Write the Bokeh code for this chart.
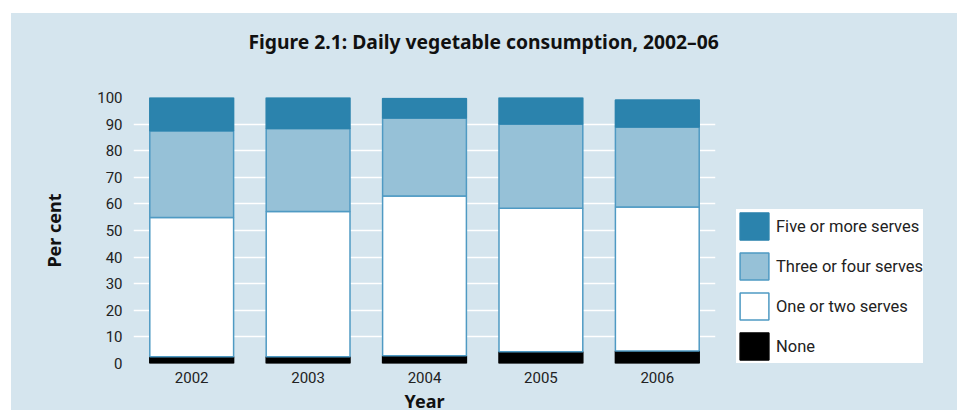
from bokeh.plotting import figure
from bokeh.models import ColumnDataSource, Legend, LegendItem, FixedTicker, Title, Spacer
from bokeh.layouts import column, row
from bokeh.embed import file_html
from bokeh.resources import INLINE

years = ["2002", "2003", "2004", "2005", "2006"]
none_serves = [2.5, 2.5, 2.9, 4.4, 4.7]
one_two = [52.4, 54.6, 60.1, 54.0, 54.1]
three_four = [32.6, 31.2, 29.3, 31.6, 30.1]
five_more = [12.5, 11.7, 7.3, 10.0, 10.2]
series_names = ["None", "One or two serves", "Three or four serves", "Five or more serves"]
y_ticks = [0, 10, 20, 30, 40, 50, 60, 70, 80, 90, 100]

BG = "#d5e5ee"
FONT = "Roboto"
keys = ["none", "one", "three", "five"]
fills = ["#000000", "#ffffff", "#96c1d7", "#2b83ad"]
lines = ["#000000", "#4f9ac3", "#4f9ac3", "#2b83ad"]

src = ColumnDataSource(dict(year=years, none=none_serves, one=one_two,
                            three=three_four, five=five_more))

# main chart
p = figure(x_range=years, y_range=(0, 100), width=720, height=402,
           output_backend="svg", toolbar_location=None, title=None,
           min_border_left=122, min_border_right=16, min_border_top=84,
           min_border_bottom=52)
p.x_range.range_padding = 0
p.background_fill_color = BG
p.border_fill_color = BG
p.outline_line_color = None

p.vbar_stack(keys, x="year", width=0.72, source=src,
             fill_color=fills, line_color=lines, line_width=1.5)

# spacer title (closest to frame) then the real title above it
p.add_layout(Title(text=" ", text_font_size="1px", standoff=40,
                   text_color=BG), "above")
p.add_layout(Title(text="Figure 2.1: Daily vegetable consumption, 2002\u201306",
                   align="left", offset=115, text_font="Noto Sans",
                   text_font_style="bold", text_font_size="19.3px",
                   text_color="#111111", standoff=0), "above")

p.ygrid.ticker = FixedTicker(ticks=y_ticks)
p.ygrid.grid_line_color = "white"
p.ygrid.grid_line_width = 1.5
p.xgrid.grid_line_color = None

p.yaxis.ticker = FixedTicker(ticks=y_ticks)
for ax in (p.xaxis[0], p.yaxis[0]):
    ax.axis_line_color = None
    ax.major_tick_line_color = None
    ax.minor_tick_line_color = None
    ax.major_tick_out = 0
    ax.major_tick_in = 0
    ax.major_label_text_font = FONT
    ax.major_label_text_font_size = "15px"
    ax.major_label_text_color = "#222222"
    ax.axis_label_text_font = "Noto Sans"
    ax.axis_label_text_font_style = "bold"
    ax.axis_label_text_font_size = "18px"
    ax.axis_label_text_color = "#111111"

p.yaxis.axis_label = "Per cent"
p.yaxis.major_label_standoff = 11
p.yaxis.axis_label_standoff = 28
p.xaxis.axis_label = "Year"
p.xaxis.major_label_standoff = 8
p.xaxis.axis_label_standoff = 3

# legend panel: hidden copies of the series supply the legend swatches
pl = figure(width=226, height=402, output_backend="svg", toolbar_location=None,
            x_axis_type=None, y_axis_type=None, min_border=0,
            x_range=years, y_range=(0, 100))
pl.background_fill_alpha = 0
pl.border_fill_color = BG
pl.outline_line_color = None
pl.grid.visible = False
dummies = [pl.vbar(x="year", top=keys[i], width=0.72, source=src,
                   fill_color=fills[i], line_color=lines[i], line_width=1.5,
                   visible=False)
           for i in range(4)]
items = [LegendItem(label=series_names[i], renderers=[dummies[i]]) for i in range(4)]
legend = Legend(items=list(reversed(items)), location=(5, 0), margin=0,
                background_fill_color="white", background_fill_alpha=1,
                border_line_color=None, glyph_width=36, glyph_height=34,
                label_height=34, spacing=6, padding=8, label_standoff=4,
                inactive_fill_alpha=0,
                label_text_font=FONT, label_text_font_size="16.5px",
                label_text_color="#222222")
pl.add_layout(legend, "center")

inner = row(p, pl, styles={"background-color": BG})
layout = column(Spacer(height=13), row(Spacer(width=11), inner))
open("out.html", "w").write(file_html(layout, INLINE))
